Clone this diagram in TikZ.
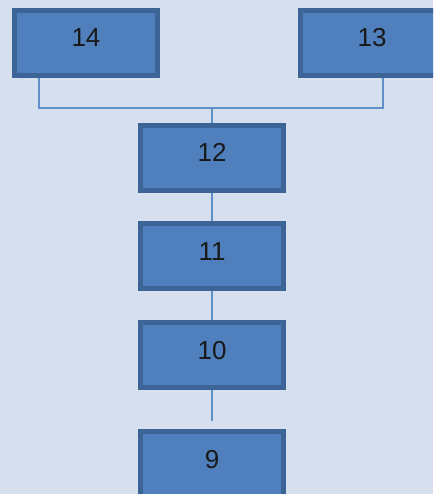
\documentclass[tikz,border=0pt]{standalone}
\usepackage{fontspec}
\setmainfont{Liberation Sans}
\usepackage{xcolor}
\usepackage{tikz}
\usetikzlibrary{positioning}
\definecolor{fond}{HTML}{D5DFEE}
\definecolor{remplissage}{HTML}{4F80BD}
\definecolor{bord}{HTML}{3C6496}
\definecolor{trait}{HTML}{5F8FCB}
\newcommand*{\largeurCase}{143pt}
\newcommand*{\hauteurCase}{65pt}
\tikzset{
	case/.style ={
		draw=bord,fill=remplissage,line width=5pt,
		minimum width=\largeurCase,minimum height=\hauteurCase,
		text height=18pt,text depth=10pt,
		font=\fontsize{26}{30}\selectfont,text=black!90
	},
	lien/.style ={
		draw=trait,line width=2pt
	}
}
\begin{document}
\begin{tikzpicture}[x=1pt,y=-1pt]
	\clip (0,0) rectangle (433,494);
	\fill[fond] (0,0) rectangle (433,494);

	\node[case] (n14) at (86,43) {14};
	\node[case] (n13) at (372,43) {13};
	\node[case] (n12) at (212,158) {12};
	\node[case] (n11) at (212,256) {11};
	\node[case] (n10) at (212,355) {10};
	\node[case] (n9) at (212,464) {9};

	\coordinate (jonction) at (212,108);
	\draw[lien] ([xshift=-47pt]n14.south) |- (jonction);
	\draw[lien] ([xshift=11pt]n13.south) |- (jonction);
	\draw[lien] (jonction) -- (n12.north);
	\draw[lien] (n12) -- (n11);
	\draw[lien] (n11) -- (n10);
	\draw[lien] (n10.south) -- ([yshift=8pt]n9.north);
\end{tikzpicture}
\end{document}
